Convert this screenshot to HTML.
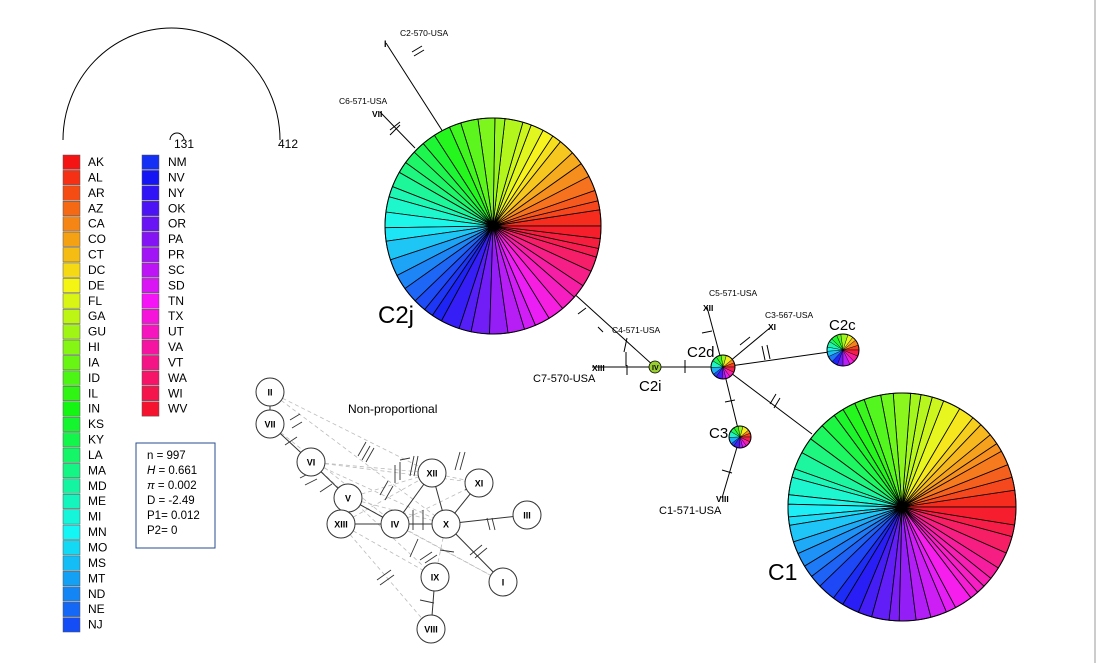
<!DOCTYPE html>
<html><head><meta charset="utf-8"><style>
body{margin:0;background:#fff;}
svg{display:block;font-family:"Liberation Sans",sans-serif;}
</style></head><body>
<svg id="s" width="1099" height="663" viewBox="0 0 1099 663">
<rect width="1099" height="663" fill="#fff"/>
<rect x="1094" y="0" width="2" height="663" fill="#ccc"/>
<g id="legend"></g>
<path d="M63,140 A108.5,112 0 0 1 280,140" fill="none" stroke="#000" stroke-width="1"/>
<path d="M170,140 A7,7 0 0 1 184,140" fill="none" stroke="#000" stroke-width="1"/>
<text x="174" y="148" font-size="12">131</text>
<text x="278" y="148" font-size="12">412</text>
<rect x="136" y="443" width="79" height="105" fill="#fff" stroke="#2a4d8f" stroke-width="1"/>
<g font-size="11.5">
<text x="147" y="459">n = 997</text>
<text x="147" y="474"><tspan font-style="italic">H</tspan> = 0.661</text>
<text x="147" y="489"><tspan font-style="italic">π</tspan> = 0.002</text>
<text x="147" y="504">D = -2.49</text>
<text x="147" y="519">P1= 0.012</text>
<text x="147" y="534">P2= 0</text>
</g>
<g id="np"></g>
<text x="348" y="413" font-size="12">Non-proportional</text>
<g id="net" stroke="#000" stroke-width="1" fill="none">
<line x1="386" y1="43" x2="445" y2="135"/>
<line x1="380" y1="112" x2="415" y2="148"/>
<line x1="570" y1="290" x2="655" y2="367"/>
<line x1="592" y1="367" x2="723" y2="367"/>
<line x1="723" y1="367" x2="707" y2="307"/>
<line x1="723" y1="367" x2="771" y2="327"/>
<line x1="723" y1="367" x2="843" y2="350"/>
<line x1="723" y1="367" x2="740" y2="437"/>
<line x1="740" y1="437" x2="722" y2="498"/>
<line x1="723" y1="367" x2="812" y2="434"/>
<path d="M412,52 l10,-6 M414,56 l10,-6 M390,130 l10,-8 M400,125 l-10,10 M578,314 l8,-6 M598,327 l5,5 M624,352 l3,-14 M626,352 v14 M627,375 v-10 M685,360 v13 M702,333 l10,-2 M740,345 l10,-8 M762,346 l3,14 M767,345 l3,14 M725,402 l10,-2 M722,470 l10,3 M770,404 l6,-10 M774,408 l6,-10"/>
</g>
<g id="pies"></g>
<g font-size="8.5" fill="#000">
<text x="400" y="36">C2-570-USA</text>
<text x="384" y="47" font-size="9" font-weight="bold">I</text>
<text x="339" y="104">C6-571-USA</text>
<text x="372" y="117" font-weight="bold">VII</text>
<text x="612" y="333">C4-571-USA</text>
<text x="709" y="296">C5-571-USA</text>
<text x="703" y="311" font-weight="bold">XII</text>
<text x="765" y="318">C3-567-USA</text>
<text x="768" y="330" font-weight="bold">XI</text>
<text x="592" y="371" font-weight="bold">XIII</text>
<text x="716" y="502" font-weight="bold">VIII</text>
</g>
<g font-size="11" fill="#000">
<text x="533" y="382">C7-570-USA</text>
<text x="659" y="514">C1-571-USA</text>
</g>
<text x="378" y="323" font-size="24">C2j</text>
<text x="768" y="580" font-size="23">C1</text>
<text x="829" y="330" font-size="15">C2c</text>
<text x="687" y="357" font-size="15">C2d</text>
<text x="639" y="391" font-size="15">C2i</text>
<text x="709" y="438" font-size="15">C3</text>
</svg>
<script>
const NS="http://www.w3.org/2000/svg";
function el(p,t,a,txt){const e=document.createElementNS(NS,t);for(const k in a)e.setAttribute(k,a[k]);if(txt)e.textContent=txt;p.appendChild(e);return e;}
const L=document.getElementById('legend');
const left="AK AL AR AZ CA CO CT DC DE FL GA GU HI IA ID IL IN KS KY LA MA MD ME MI MN MO MS MT ND NE NJ".split(" ");
const right="NM NV NY OK OR PA PR SC SD TN TX UT VA VT WA WI WV".split(" ");
const rh=15.42;
left.forEach((s,i)=>{const y=155+i*rh;el(L,'rect',{x:63,y:y,width:17,height:rh-1,fill:`hsl(${i*7.5},92%,52%)`,stroke:'#555','stroke-width':0.5});el(L,'text',{x:88,y:y+11,'font-size':12},s);});
right.forEach((s,j)=>{const i=j+31;const y=155+j*rh;el(L,'rect',{x:142,y:y,width:17,height:rh-1,fill:`hsl(${i*7.5},92%,52%)`,stroke:'#555','stroke-width':0.5});el(L,'text',{x:168,y:y+11,'font-size':12},s);});
const P=document.getElementById('pies');
function pie(cx,cy,r,n){
 let seed=n*7+3;function rnd(){seed=(seed*9301+49297)%233280;return seed/233280;}
 let ws=[];for(let i=0;i<n;i++)ws.push(0.6+rnd()*0.8);const tot=ws.reduce((a,b)=>a+b,0);
 let a=0;for(let i=0;i<n;i++){const a2=a+ws[i]/tot*2*Math.PI;const mid=(a+a2)/2;
  const x1=cx+r*Math.cos(a),y1=cy-r*Math.sin(a),x2=cx+r*Math.cos(a2),y2=cy-r*Math.sin(a2);
  el(P,'path',{d:`M${cx},${cy}L${x1},${y1}A${r},${r} 0 0 0 ${x2},${y2}Z`,fill:`hsl(${mid*180/Math.PI},92%,54%)`,stroke:'#000','stroke-width':r>50?0.8:0.4});a=a2;}
 el(P,'circle',{cx,cy,r,fill:'none',stroke:'#000','stroke-width':1});
}
pie(493,226,108,48);pie(902,507,114,52);pie(723,367,12,14);pie(843,350,16,18);pie(740,437,11,14);
el(P,'circle',{cx:655,cy:367,r:6,fill:'#9acd32',stroke:'#000','stroke-width':0.8});
el(P,'text',{x:652,y:370,'font-size':7,'font-weight':'bold'},'IV');
const N=document.getElementById('np');
const nodes={II:[270,392],VII:[270,424],VI:[311,462],V:[348,498],XIII:[341,524],IV:[395,524],X:[446,524],XII:[432,473],XI:[479,483],III:[527,515],IX:[435,577],I:[503,582],VIII:[431,629]};
const dashed=[["II","X"],["II","XII"],["VII","IV"],["VI","XII"],["VI","X"],["VI","IX"],["V","XII"],["V","X"],["XIII","IX"],["XIII","VIII"],["XIII","X"],["IV","XI"],["IV","I"],["V","I"],["XII","XI"],["X","IX"],["XIII","XII"],["VI","XI"]];
dashed.forEach(([a,b])=>el(N,'line',{x1:nodes[a][0],y1:nodes[a][1],x2:nodes[b][0],y2:nodes[b][1],stroke:'#bbb','stroke-width':0.8,'stroke-dasharray':'4,3'}));
const solid=[["II","VII"],["VII","VI"],["VI","V"],["V","IV"],["XIII","IV"],["IV","X"],["X","XII"],["X","XI"],["X","III"],["X","I"],["IX","VIII"],["IV","XII"]];
solid.forEach(([a,b])=>el(N,'line',{x1:nodes[a][0],y1:nodes[a][1],x2:nodes[b][0],y2:nodes[b][1],stroke:'#333','stroke-width':1}));
const ticks="M290,420 l10,-6 M292,428 l10,-6 M285,445 l12,-8 M300,478 l12,-6 M305,485 l12,-6 M320,492 l12,-8 M358,456 l8,-14 M362,460 l8,-14 M366,462 l8,-14 M395,465 l0,18 M400,462 l0,18 M400,460 l10,-2 M380,495 l8,-14 M385,500 l8,-14 M413,510 l0,20 M423,510 l0,20 M410,476 l4,-20 M414,476 l4,-20 M455,470 l5,-18 M460,470 l5,-18 M465,490 l20,-8 M490,530 l-3,-12 M495,530 l-3,-12 M470,555 l12,-10 M475,558 l12,-10 M410,557 l8,-18 M420,560 l12,-8 M425,563 l12,-8 M377,580 l14,-10 M380,585 l14,-10 M420,600 l14,3 M440,550 l14,2";
el(N,'path',{d:ticks,stroke:'#333','stroke-width':0.9,fill:'none'});
for(const k in nodes){const[x,y]=nodes[k];el(N,'circle',{cx:x,cy:y,r:14,fill:'#fff',stroke:'#333','stroke-width':1});el(N,'text',{x:x,y:y+3.5,'font-size':9,'font-weight':'bold','text-anchor':'middle'},k);}
</script>
</body></html>
